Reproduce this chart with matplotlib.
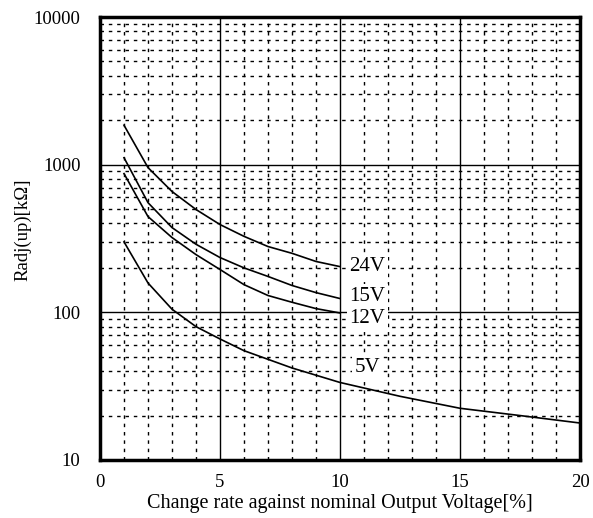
import numpy as np
import matplotlib.pyplot as plt
from matplotlib.ticker import FixedLocator, NullFormatter

plt.rcParams['font.family'] = ['Liberation Serif', 'DejaVu Serif']

# values (x: change rate %, y: Radj kOhm)
x_24 = [1, 2, 3, 4, 5, 6, 7, 8, 9, 10]
y_24 = [1850, 955, 658, 497, 393, 327, 279, 251, 221, 204]
x_15 = [1, 2, 3, 4, 5, 6, 7, 8, 9, 10]
y_15 = [1115, 553, 375, 289, 235, 200, 175, 152, 136, 124]
x_12 = [1, 2, 3, 4, 5, 6, 7, 8, 9, 10]
y_12 = [870, 445, 321, 246, 195, 154, 130, 117, 106, 99]
x_5 = [1, 2, 3, 4, 5, 6, 8, 10, 12.5, 15, 17.5, 20]
y_5 = [300, 158, 105, 80, 66, 55, 42, 33.5, 27, 22.4, 20, 17.8]

labels = ['24V', '15V', '12V', '5V']
label_x = [10.4, 10.4, 10.4, 10.6]
label_y = [204, 128, 91, 42]

fig = plt.figure(figsize=(5.93, 5.18), dpi=100)
ax = fig.add_axes([100/593, 58/518, 480/593, 443/518])

for xs, ys in [(x_24, y_24), (x_15, y_15), (x_12, y_12), (x_5, y_5)]:
    ax.plot(xs, ys, color='black', lw=1.2, zorder=3)

ax.set_yscale('log')
ax.set_xlim(0, 20)
ax.set_ylim(10, 10000)

ax.xaxis.set_major_locator(FixedLocator([0, 5, 10, 15, 20]))
ax.xaxis.set_minor_locator(FixedLocator([i for i in range(1, 20) if i % 5]))
ax.yaxis.set_major_locator(FixedLocator([10, 100, 1000, 10000]))
ax.yaxis.set_minor_locator(FixedLocator([m * d for d in (10, 100, 1000) for m in range(2, 10)]))
ax.yaxis.set_minor_formatter(NullFormatter())
ax.set_yticklabels(['10', '100', '1000', '10000'])

ax.grid(True, which='major', color='black', lw=1.0, ls='-')
ax.grid(True, which='minor', color='black', lw=1.0, ls=(0, (2.5, 3.5)))
ax.tick_params(which='both', length=0, labelsize=13.5)
ax.tick_params(axis='x', pad=10)
ax.tick_params(axis='y', pad=14)

for s in ax.spines.values():
    s.set_linewidth(2.5)

for t, lx, ly in zip(labels, label_x, label_y):
    ax.text(lx, ly, t, fontsize=15, va='center', ha='left', zorder=4,
            bbox=dict(facecolor='white', edgecolor='none', pad=2))

ax.set_xlabel('Change rate against nominal Output Voltage[%]', fontsize=14.5)
ax.set_ylabel('Radj(up)[k\u03a9]', fontsize=13.5)
ax.xaxis.set_label_coords(0.5, -0.076)
ax.yaxis.set_label_coords(-0.143, 0.52)

fig.savefig('out.png', dpi=100)
